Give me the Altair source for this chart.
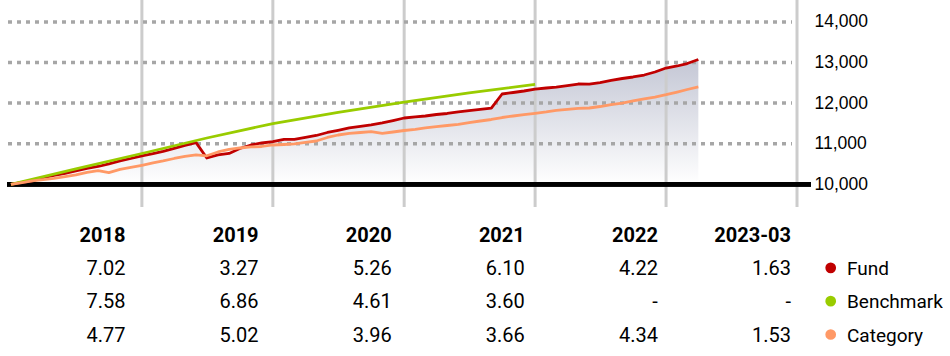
import calendar
import altair as alt
import pandas as pd

# ---------------- data ----------------
def month_ends(start_year, start_month, count):
    out = []
    y, m = start_year, start_month
    for _ in range(count):
        d = calendar.monthrange(y, m)[1]
        out.append(f"{y:04d}-{m:02d}-{d:02d}")
        m += 1
        if m > 12:
            m = 1
            y += 1
    return out

months = month_ends(2017, 12, 64)

fund_values = [
    10000,
    10044, 10085, 10163, 10217, 10271, 10328, 10390, 10438, 10500, 10574, 10635, 10702,
    10755, 10808, 10882, 10956, 11025, 10648, 10722, 10760, 10882, 10968, 11017, 11052,
    11108, 11108, 11153, 11202, 11276, 11330, 11387, 11424, 11461, 11510, 11570, 11633,
    11658, 11682, 11719, 11744, 11781, 11813, 11845, 11877, 12224, 12261, 12298, 12343,
    12372, 12396, 12433, 12470, 12465, 12507, 12557, 12606, 12643, 12692, 12766, 12864,
    12914, 12975, 13073,
]

category_values = [
    10000,
    10040, 10081, 10112, 10143, 10186, 10229, 10291, 10335, 10286, 10365, 10414, 10468,
    10525, 10574, 10635, 10685, 10722, 10702, 10796, 10857, 10894, 10919, 10931, 10968,
    10980, 10993, 11030, 11066, 11153, 11214, 11256, 11276, 11296, 11256, 11288, 11325,
    11350, 11387, 11419, 11448, 11478, 11517, 11559, 11596, 11645, 11682, 11714, 11749,
    11781, 11818, 11847, 11872, 11879, 11916, 11965, 12002, 12052, 12101, 12150, 12207,
    12273, 12335, 12397,
]

bench_dates = ["2017-12-31", "2018-06-30", "2018-12-31", "2019-06-30", "2019-12-31",
               "2020-06-30", "2020-12-31", "2021-06-30", "2021-12-31"]
bench_values = [10000, 10380, 10758, 11140, 11496, 11770, 12026, 12250, 12459]

series_names = ["Fund", "Benchmark", "Category"]
series_colors = ["#c00000", "#99cc00", "#ff9966"]

year_ends = ["2018-12-31", "2019-12-31", "2020-12-31", "2021-12-31", "2022-12-31", "2023-12-31"]
y_ticks = [10000, 11000, 12000, 13000, 14000]
grid_levels = [11000, 12000, 13000, 14000]

col_labels = ["2018", "2019", "2020", "2021", "2022", "2023-03"]
fund_returns = ["7.02", "3.27", "5.26", "6.10", "4.22", "1.63"]
bench_returns = ["7.58", "6.86", "4.61", "3.60", "-", "-"]
cat_returns = ["4.77", "5.02", "3.96", "3.66", "4.34", "1.53"]

# ---------------- tables ----------------
lines_df = pd.concat([
    pd.DataFrame({"date": months, "value": fund_values, "series": "Fund"}),
    pd.DataFrame({"date": bench_dates, "value": bench_values, "series": "Benchmark"}),
    pd.DataFrame({"date": months, "value": category_values, "series": "Category"}),
], ignore_index=True)
fund_df = pd.DataFrame({"date": months, "value": fund_values})
grid_df = pd.DataFrame({"level": grid_levels})
vgrid_df = pd.DataFrame({"date": year_ends})

row_keys = ["head", "Fund", "Benchmark", "Category"]
header_df = pd.DataFrame({"col": col_labels, "row": "head", "text": col_labels})
values_df = pd.concat([
    pd.DataFrame({"col": col_labels, "row": "Fund", "text": fund_returns}),
    pd.DataFrame({"col": col_labels, "row": "Benchmark", "text": bench_returns}),
    pd.DataFrame({"col": col_labels, "row": "Category", "text": cat_returns}),
], ignore_index=True)
legend_df = pd.DataFrame({"row": series_names, "series": series_names})

# ---------------- styling ----------------
W = 804
TOP_H = 207
BOT_H = 149
COND = "Roboto"
AXISFONT = "Liberation Sans"
FS = 20

x_scale = alt.Scale(
    type="utc",
    domain=[alt.DateTime(year=2017, month=12, date=20, utc=True),
            alt.DateTime(year=2024, month=2, date=8, utc=True)],
)
y_scale = alt.Scale(domain=[9440, 14540], zero=False, nice=False)
color_scale = alt.Scale(domain=series_names, range=series_colors)

y_axis = alt.Axis(
    orient="right", values=y_ticks, format=",d", title=None,
    labelFont=AXISFONT, labelFontSize=17.5, labelColor="#000000",
    ticks=False, domain=False, grid=False, labelPadding=3,
)

area = alt.Chart(fund_df).mark_area(
    color=alt.Gradient(
        gradient="linear",
        stops=[alt.GradientStop(color="#c4c7d5", offset=0),
               alt.GradientStop(color="#ffffff", offset=1)],
        x1=0, x2=0, y1=0, y2=1,
    ),
    interpolate="linear",
).encode(
    x=alt.X("date:T", scale=x_scale, axis=None),
    y=alt.Y("value:Q", scale=y_scale, axis=y_axis),
    y2=alt.datum(10000),
)

hgrid = alt.Chart(grid_df).mark_rule(
    color="#a6a6a6", strokeWidth=3.5, strokeDash=[4, 5], clip=True
).encode(
    y=alt.Y("level:Q", scale=y_scale),
    x=alt.value(1),
    x2=alt.value(785),
)

vgrid = alt.Chart(vgrid_df).mark_rule(color="#cccccc", strokeWidth=3, clip=True).encode(
    x=alt.X("date:T", scale=x_scale),
)

baseline = alt.Chart(grid_df).mark_rule(color="#000000", strokeWidth=4.5, clip=True).encode(
    y=alt.datum(10000),
)

lines = alt.Chart(lines_df).mark_line(strokeWidth=2.8, strokeJoin="round").encode(
    x=alt.X("date:T", scale=x_scale),
    y=alt.Y("value:Q", scale=y_scale),
    stroke=alt.Stroke("series:N", scale=color_scale, legend=None),
    order=alt.Order("date:T"),
)

top = alt.layer(area, vgrid, hgrid, baseline, lines).properties(width=W, height=TOP_H)

# ---------------- returns table + key ----------------
x_tab = alt.X("col:N", scale=alt.Scale(type="point", domain=col_labels, range=[118.5, 784], padding=0), axis=None)
y_tab = alt.Y("row:N", scale=alt.Scale(type="point", domain=row_keys, range=[34.7, 134.7], padding=0), axis=None)
y_dot = alt.Y("row:N", scale=alt.Scale(type="point", domain=row_keys, range=[27.5, 127.5], padding=0), axis=None)

head_text = alt.Chart(header_df).mark_text(
    align="right", baseline="alphabetic", font=COND, fontSize=FS, fontWeight="bold", color="#000000"
).encode(x=x_tab, y=y_tab, text="text:N")

val_text = alt.Chart(values_df).mark_text(
    align="right", baseline="alphabetic", font=COND, fontSize=FS, color="#000000"
).encode(x=x_tab, y=y_tab, text="text:N")

key_dots = alt.Chart(legend_df).mark_circle(size=115, opacity=1).encode(
    x=alt.value(823.7),
    y=y_dot,
    color=alt.Color("series:N", scale=color_scale, legend=None),
)

key_text = alt.Chart(legend_df).mark_text(
    align="left", baseline="alphabetic", font=COND, fontSize=19, color="#000000"
).encode(x=alt.value(840), y=y_tab, text="series:N")

bottom = alt.layer(head_text, val_text, key_text, key_dots).resolve_scale(
    y="independent"
).properties(width=W, height=BOT_H)

chart = alt.vconcat(top, bottom, spacing=0).properties(
    padding={"left": 7, "top": 0, "right": 0, "bottom": 0},
    background="#ffffff",
).configure_view(stroke=None)

chart.save("out.html", embed_options={"renderer": "svg", "actions": False})
